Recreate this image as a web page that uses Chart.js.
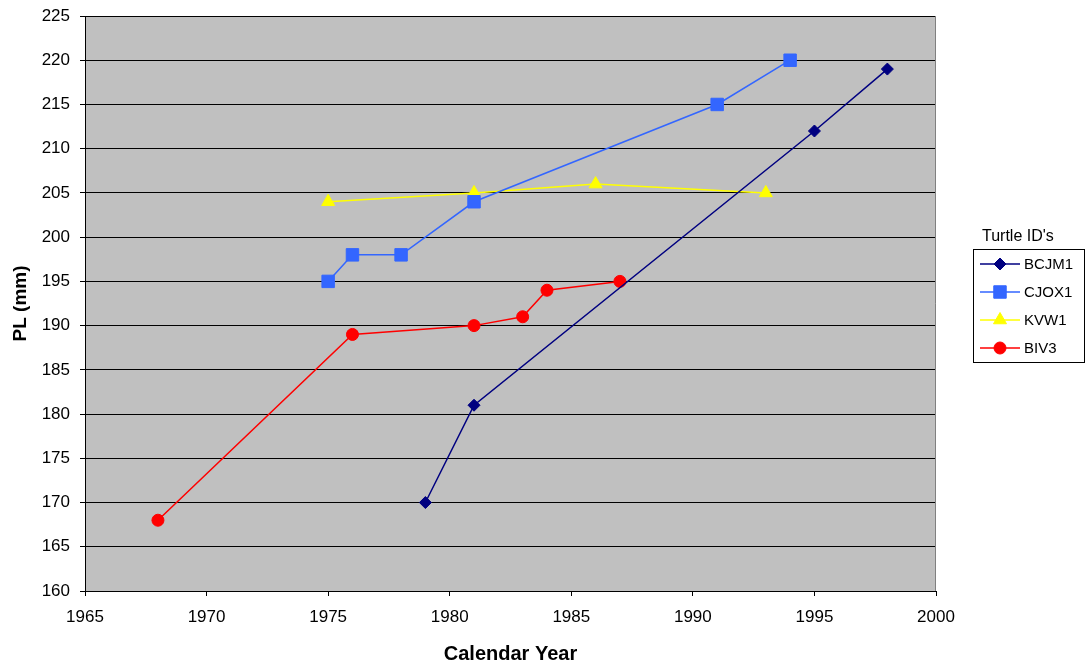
<!DOCTYPE html>
<html>
<head>
<meta charset="utf-8">
<script src="https://cdn.jsdelivr.net/npm/chart.js@4/dist/chart.umd.min.js"></script>
<style>
  html, body { margin: 0; padding: 0; background: #ffffff; }
  #wrap { width: 1090px; height: 670px; }
</style>
</head>
<body>
<div id="wrap"><canvas id="c" width="1090" height="670"></canvas></div>
<script>
// Plastron length measurements by calendar year for each turtle
const seriesNames = ["BCJM1", "CJOX1", "KVW1", "BIV3"];
const bcjm1Years = [1979, 1981, 1995, 1998];
const bcjm1PL    = [170, 181, 212, 219];
const cjox1Years = [1975, 1976, 1978, 1981, 1991, 1994];
const cjox1PL    = [195, 198, 198, 204, 215, 220];
const kvw1Years  = [1975, 1981, 1986, 1993];
const kvw1PL     = [204, 205, 206, 205];
const biv3Years  = [1968, 1976, 1981, 1983, 1984, 1987];
const biv3PL     = [168, 189, 190, 191, 194, 195];
const xTicks = [1965, 1970, 1975, 1980, 1985, 1990, 1995, 2000];
const yTicks = [160, 165, 170, 175, 180, 185, 190, 195, 200, 205, 210, 215, 220, 225];

const pts = (xs, ys) => xs.map((x, i) => ({ x: x, y: ys[i] }));

const styles = [
  { color: "#000080", shape: "rectRot",  r: 6 },
  { color: "#3366FF", shape: "rect",     r: 8.8 },
  { color: "#FFFF00", shape: "triangle", r: 7.5 },
  { color: "#FF0000", shape: "circle",   r: 6 }
];
const values = [
  pts(bcjm1Years, bcjm1PL),
  pts(cjox1Years, cjox1PL),
  pts(kvw1Years, kvw1PL),
  pts(biv3Years, biv3PL)
];

const datasets = seriesNames.map((name, i) => ({
  label: name,
  data: values[i],
  borderColor: styles[i].color,
  backgroundColor: styles[i].color,
  pointBackgroundColor: styles[i].color,
  pointBorderColor: styles[i].color,
  pointStyle: styles[i].shape,
  pointRadius: styles[i].r,
  pointHoverRadius: styles[i].r,
  borderWidth: 1.5,
  pointBorderWidth: 1,
  tension: 0,
  showLine: true
}));

const FONT = "'Liberation Sans', Arial, sans-serif";

// Grey plot background and frame
const plotBackground = {
  id: "plotBackground",
  beforeDraw(chart) {
    const { ctx, chartArea: a } = chart;
    ctx.save();
    ctx.fillStyle = "#C0C0C0";
    ctx.fillRect(a.left, a.top, a.right - a.left, a.bottom - a.top);
    ctx.restore();
  },
  afterDatasetsDraw(chart) {
    const { ctx, chartArea: a } = chart;
    ctx.save();
    ctx.strokeStyle = "#808080";
    ctx.lineWidth = 1;
    ctx.beginPath();
    ctx.moveTo(a.right - 0.5, a.top);
    ctx.lineTo(a.right - 0.5, a.bottom);
    ctx.stroke();
    ctx.restore();
  }
};

// Boxed legend to the right of the plot, titled "Turtle ID's"
const boxLegend = {
  id: "boxLegend",
  afterDraw(chart) {
    const ctx = chart.ctx;
    const bx = 973, by = 249, bw = 111, bh = 113;
    ctx.save();
    ctx.fillStyle = "#000";
    ctx.textBaseline = "middle";
    ctx.textAlign = "left";
    ctx.font = "16px " + FONT;
    ctx.fillText("Turtle ID's", 982, 237);
    ctx.strokeStyle = "#000";
    ctx.lineWidth = 1;
    ctx.strokeRect(bx + 0.5, by + 0.5, bw, bh);
    ctx.font = "15px " + FONT;
    chart.data.datasets.forEach((ds, i) => {
      const y = 264 + i * 28;
      ctx.strokeStyle = ds.borderColor;
      ctx.lineWidth = 1.5;
      ctx.beginPath();
      ctx.moveTo(980, y);
      ctx.lineTo(1020, y);
      ctx.stroke();
      ctx.fillStyle = ds.pointBackgroundColor;
      ctx.strokeStyle = ds.pointBorderColor;
      ctx.lineWidth = 1;
      Chart.helpers.drawPoint(ctx, { pointStyle: ds.pointStyle, radius: ds.pointRadius, borderWidth: 1, rotation: 0 }, 1000, y);
      ctx.fillStyle = "#000";
      ctx.fillText(ds.label, 1024, y + 1);
    });
    ctx.restore();
  }
};

new Chart(document.getElementById("c"), {
  type: "scatter",
  data: { datasets: datasets },
  plugins: [plotBackground, boxLegend],
  options: {
    responsive: false,
    animation: false,
    events: [],
    layout: { padding: { left: 0, right: 154, top: 16, bottom: 0 } },
    plugins: { legend: { display: false }, tooltip: { enabled: false } },
    scales: {
      x: {
        type: "linear",
        min: xTicks[0],
        max: xTicks[xTicks.length - 1],
        afterBuildTicks(scale) { scale.ticks = xTicks.map(v => ({ value: v })); },
        afterFit(scale) { scale.height = 79; scale.paddingLeft = 0; scale.paddingRight = 0; },
        ticks: {
          font: { family: FONT, size: 17 },
          color: "#000",
          padding: 11,
          maxRotation: 0,
          callback: v => String(v)
        },
        grid: { drawOnChartArea: false, drawTicks: true, tickLength: 5, color: "#000" },
        border: { display: true, color: "#000", width: 1 },
        title: {
          display: true,
          text: "Calendar Year",
          font: { family: FONT, size: 20, weight: "bold" },
          color: "#000",
          padding: { top: 10, bottom: 4 }
        }
      },
      y: {
        type: "linear",
        min: yTicks[0],
        max: yTicks[yTicks.length - 1],
        afterBuildTicks(scale) { scale.ticks = yTicks.map(v => ({ value: v })); },
        afterFit(scale) { scale.width = 85; scale.paddingTop = 0; scale.paddingBottom = 0; },
        ticks: {
          font: { family: FONT, size: 17 },
          color: "#000",
          padding: 10,
          callback: v => String(v)
        },
        grid: { drawOnChartArea: true, drawTicks: true, tickLength: 5, color: "#000", lineWidth: 1 },
        border: { display: true, color: "#000", width: 1 },
        title: {
          display: true,
          text: "PL (mm)",
          font: { family: FONT, size: 19, weight: "bold" },
          color: "#000",
          padding: { top: 9, bottom: 6 }
        }
      }
    }
  }
});
</script>
</body>
</html>
